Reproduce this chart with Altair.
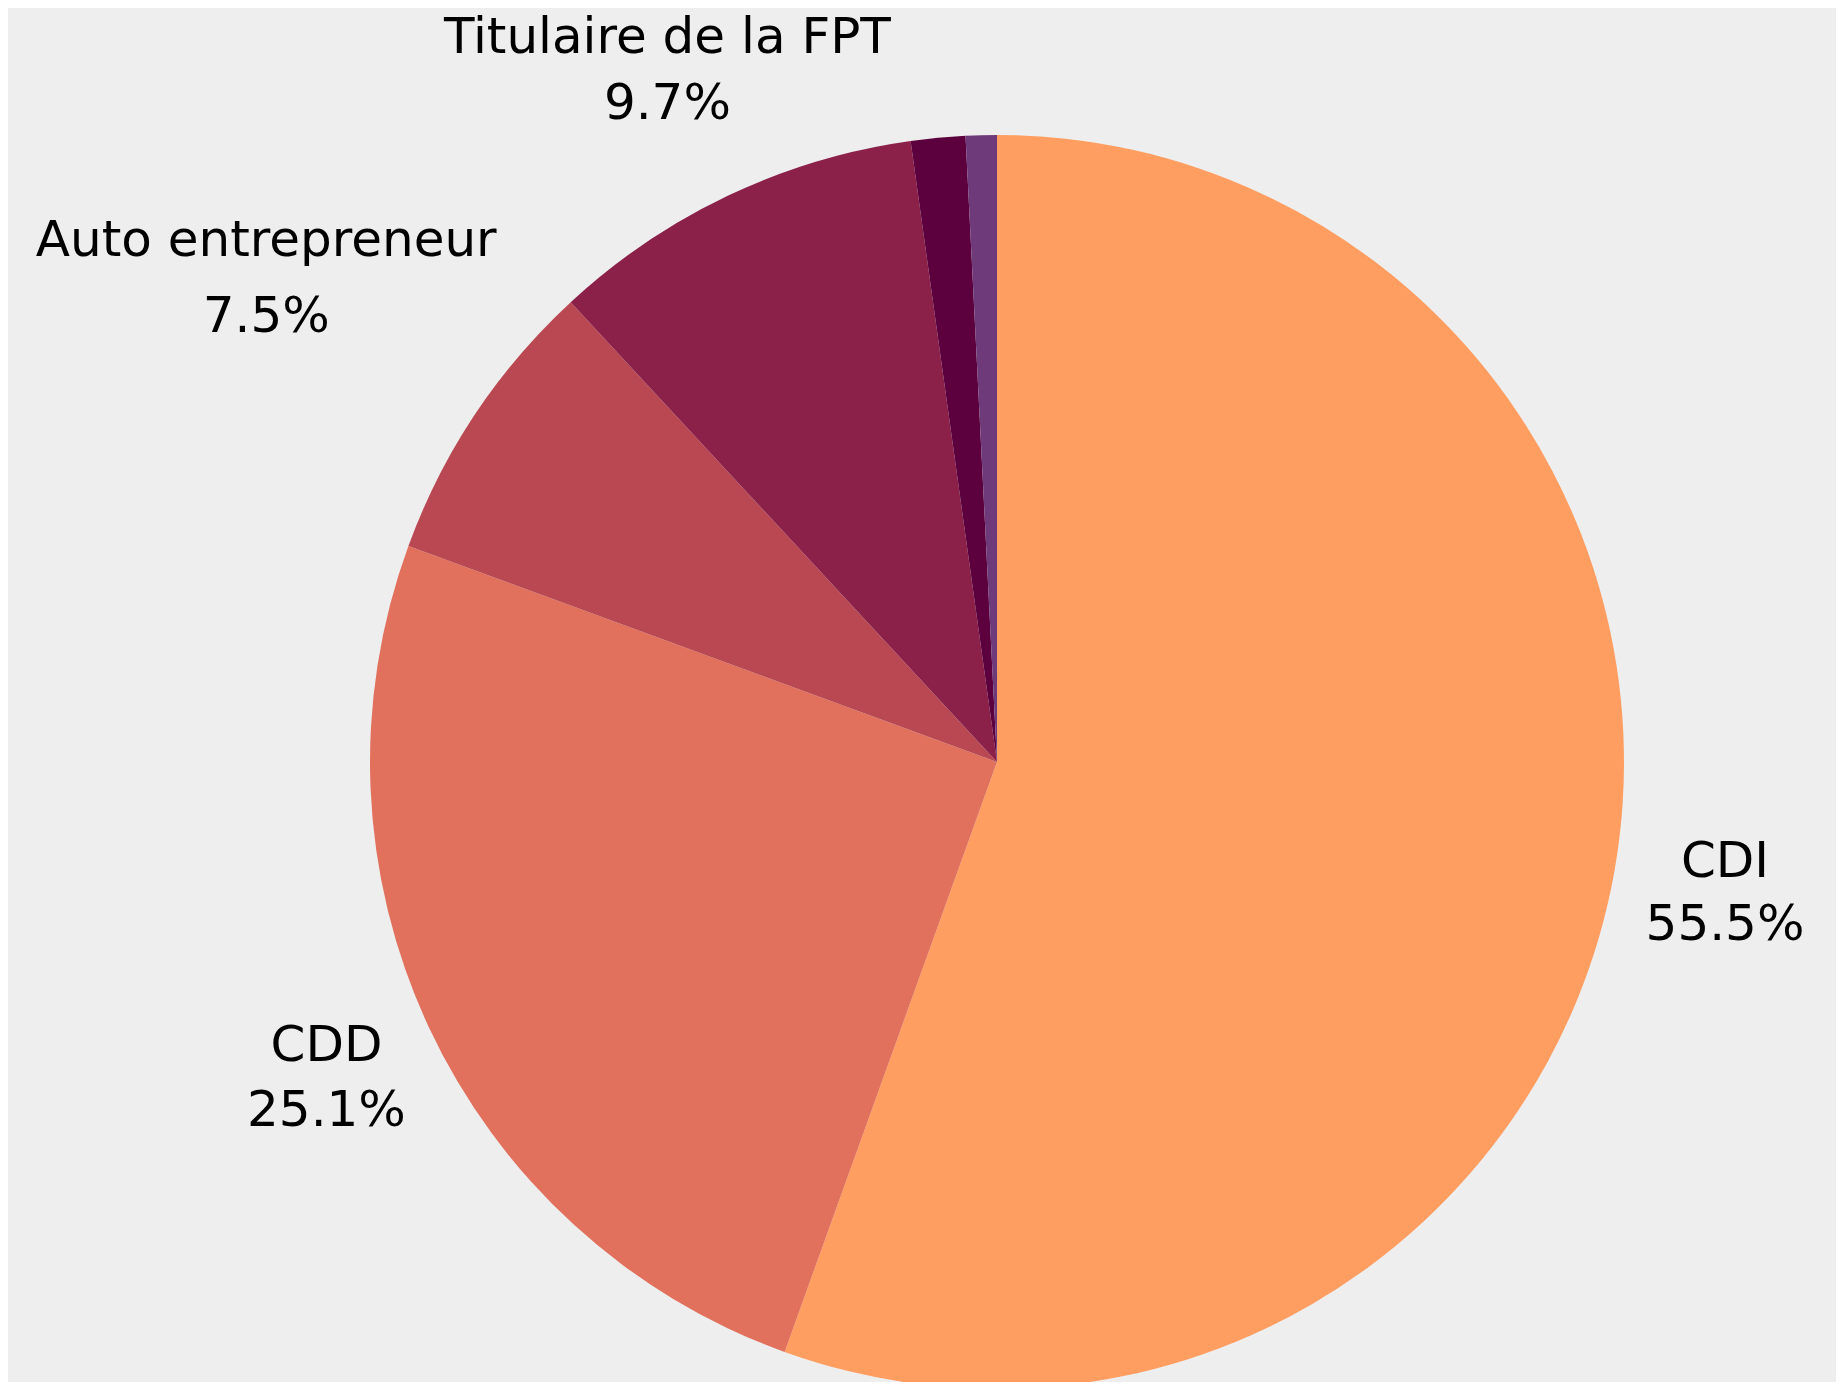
import altair as alt
import pandas as pd

categories = ["CDI", "CDD", "Auto entrepreneur", "Titulaire de la FPT", "Autre 1", "Autre 2"]
values = [55.5, 25.1, 7.5, 9.7, 1.4, 0.8]
labels = ["CDI\n55.5%", "CDD\n25.1%", "Auto entrepreneur\n7.5%", "Titulaire de la FPT\n9.7%", "", ""]
colors = ["#ff9e60", "#e1705c", "#b94852", "#8b2049", "#5c003e", "#6f3a7a"]

df = pd.DataFrame({"cat": categories, "value": values, "label": labels, "idx": list(range(len(categories)))})

CX, CY, R = 989, 754, 627
W, H = 1828, 1374

base = alt.Chart(df).encode(
    theta=alt.Theta("value:Q", stack=True),
    order=alt.Order("idx:Q"),
)

arcs = base.mark_arc(radius=R).encode(
    x=alt.value(CX), y=alt.value(CY),
    color=alt.Color("cat:N", scale=alt.Scale(domain=categories, range=colors), legend=None),
)

# (radius of label block centre, line height) per labelled slice
label_style = {
    "CDI": (739, 63),
    "CDD": (740, 65),
    "Auto entrepreneur": (878, 76),
    "Titulaire de la FPT": (769, 66),
}

layers = [arcs]
for cat, (rr, lh) in label_style.items():
    layers.append(
        base.mark_text(
            radius=rr, font="DejaVu Sans", fontSize=50, lineHeight=lh, dy=-lh / 2 + 4,
            align="center", baseline="middle", color="#000000", lineBreak="\n",
        ).encode(
            x=alt.value(CX), y=alt.value(CY),
            text=alt.condition(alt.datum.cat == cat, "label:N", alt.value("")),
        )
    )

chart = alt.layer(*layers).properties(
    width=W, height=H, padding=0, autosize="none", background="#eeeeee"
).configure_view(stroke=None)

chart.save("out.html", embed_options={"renderer": "svg", "actions": False})
